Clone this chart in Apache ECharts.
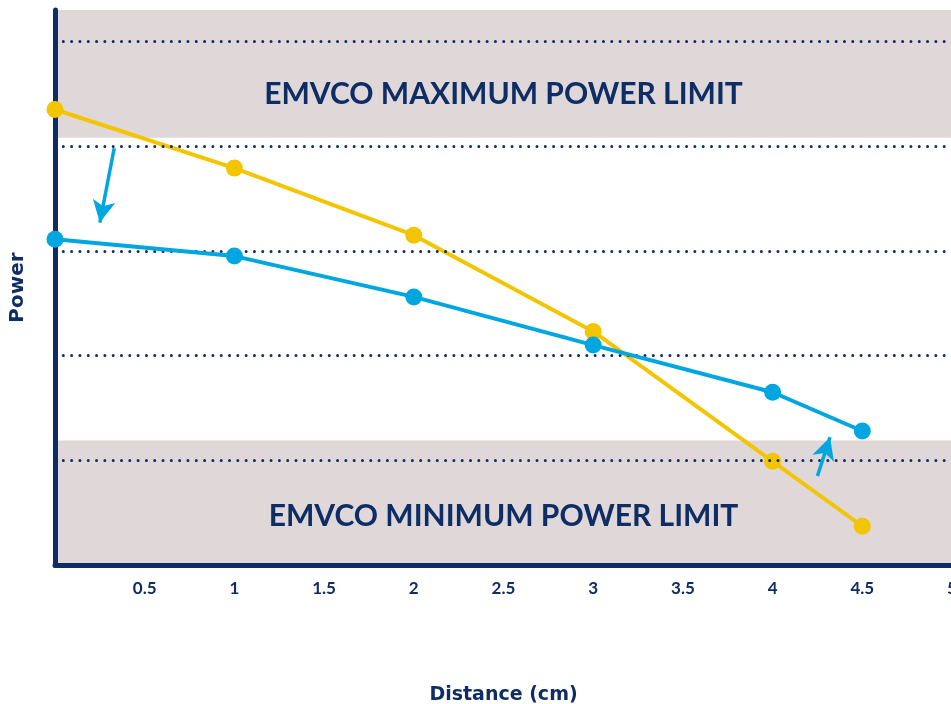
<!DOCTYPE html>
<html>
<head>
<meta charset="utf-8">
<script src="https://cdn.jsdelivr.net/npm/echarts@6/dist/echarts.min.js"></script>
<style>
	html, body { margin: 0; padding: 0; background: #fff; }
	#chart { width: 951px; height: 704px; }
</style>
</head>
<body>
<div id="chart"></div>
<script>
	// distances (cm) and relative power readings
	var distances = [0, 1, 2, 3, 4, 4.5];
	var yellowPower = [4.35, 3.79, 3.15, 2.23, 0.99, 0.37];
	var bluePower = [3.11, 2.95, 2.56, 2.10, 1.65, 1.28];
	// dotted reference levels on the power axis
	var dotLevels = [1, 2, 3, 4, 5];
	// limit bands [from, to] on the power axis
	var maxBand = [4.08, 5.3];
	var minBand = [0, 1.19];
	var maxLabel = 'EMVCO MAXIMUM POWER LIMIT';
	var minLabel = 'EMVCO MINIMUM POWER LIMIT';
	// annotation arrows: [[x0, y0], [x1, y1]]
	var arrows = [
		[[0.33, 3.98], [0.25, 3.27]],
		[[4.25, 0.85], [4.32, 1.22]]
	];

	var navy = '#0d2d64';
	var yellow = '#f2c500';
	var blue = '#00a6e0';
	var font = 'Lato';
	var nameFont = 'DejaVu Sans';

	function pairs(xs, ys) {
		var out = [];
		for (var i = 0; i < xs.length; i++) {
			out.push([xs[i], ys[i]]);
		}
		return out;
	}

	var chart = echarts.init(document.getElementById('chart'));
	var option = {
		animation: false,
		grid: { left: 55, right: -1, top: 10, bottom: 139, outerBoundsMode: 'none', containLabel: false },
		xAxis: {
			type: 'value',
			z: 3,
			min: 0,
			max: 5,
			interval: 0.5,
			name: 'Distance (cm)',
			nameLocation: 'middle',
			nameGap: 121,
			nameTextStyle: { color: navy, fontFamily: nameFont, fontWeight: 'bold', fontSize: 19 },
			axisLine: { show: true, lineStyle: { color: navy, width: 5 } },
			axisTick: { show: false },
			splitLine: { show: false },
			axisLabel: {
				color: navy, fontFamily: font, fontWeight: 'bold', fontSize: 17, margin: 15,
				formatter: function (v) { return v === 0 ? '' : String(v); }
			}
		},
		yAxis: {
			type: 'value',
			z: 3,
			min: 0,
			max: 5.3,
			interval: 1,
			name: 'Power',
			nameLocation: 'middle',
			nameGap: 27,
			nameRotate: 90,
			nameTextStyle: { color: navy, fontFamily: nameFont, fontWeight: 'bold', fontSize: 20 },
			axisLine: { show: true, lineStyle: { color: navy, width: 5 } },
			axisTick: { show: false },
			axisLabel: { show: false },
			splitLine: { show: false }
		},
		series: [
			{
				// limit bands
				type: 'line',
				data: [],
				z: 1,
				markArea: {
					silent: true,
					itemStyle: { color: '#dfd7d8' },
					label: {
						show: true,
						position: 'inside',
						color: navy,
						fontFamily: font,
						fontWeight: 'bold',
						fontSize: 30
					},
					data: [
						[{ coord: [0, maxBand[0]], name: maxLabel, label: { offset: [0, 20] } }, { coord: [5, maxBand[1]] }],
						[{ coord: [0, minBand[0]], name: minLabel, label: { offset: [0, 14] } }, { coord: [5, minBand[1]] }]
					]
				}
			},
			{
				// dotted levels
				type: 'line',
				data: [],
				z: 2,
				markLine: {
					silent: true,
					symbol: ['none', 'none'],
					label: { show: false },
					lineStyle: { color: navy, width: 3, type: [0.01, 8.3], cap: 'round' },
					data: dotLevels.map(function (v) { return { yAxis: v }; })
				}
			},
			{
				type: 'line',
				data: pairs(distances, yellowPower),
				z: 4,
				symbol: 'circle',
				symbolSize: 17,
				lineStyle: { color: yellow, width: 4 },
				itemStyle: { color: yellow }
			},
			{
				type: 'line',
				data: pairs(distances, bluePower),
				z: 5,
				symbol: 'circle',
				symbolSize: 17,
				lineStyle: { color: blue, width: 4 },
				itemStyle: { color: blue },
				markLine: {
					silent: true,
					symbol: ['none', 'arrow'],
					symbolSize: [17, 22],
					label: { show: false },
					lineStyle: { color: blue, width: 3.5, type: 'solid' },
					data: arrows.map(function (a) {
						return [{ coord: a[0] }, { coord: a[1] }];
					})
				}
			}
		]
	};
	chart.setOption(option);
</script>
</body>
</html>
